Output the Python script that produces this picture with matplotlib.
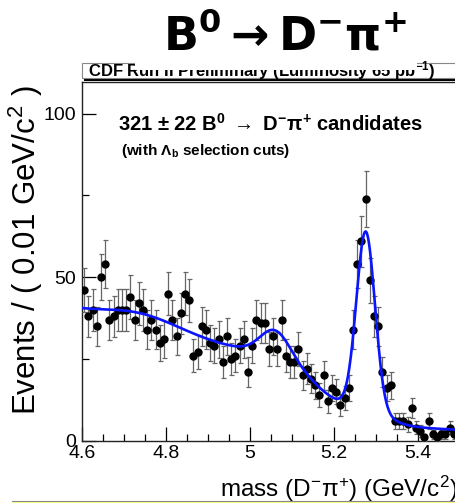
import math
import numpy as np
import matplotlib.pyplot as plt
from matplotlib.patches import Rectangle

plt.rcParams['font.family'] = ['Liberation Sans', 'DejaVu Sans']
plt.rcParams['mathtext.fontset'] = 'custom'
plt.rcParams['mathtext.rm'] = 'Liberation Sans'
plt.rcParams['mathtext.it'] = 'Liberation Sans:italic'
plt.rcParams['mathtext.bf'] = 'Liberation Sans:bold'
plt.rcParams['mathtext.default'] = 'regular'

# events per 0.01 GeV/c^2 bin, first bin centre at 4.605
bin_start = 4.605
bin_width = 0.01
counts = [46, 38, 40, 35, 50, 54, 37, 38, 40, 40,
          40, 44, 37, 42, 40, 34, 37, 34, 30, 31,
          45, 37, 32, 39, 45, 43, 26, 27, 35, 34,
          30, 29, 31, 24, 32, 25, 26, 29, 31, 21,
          29, 37, 36, 36, 28, 32, 28, 37, 26, 24,
          24, 28, 20, 22, 19, 17, 14, 20, 12, 16,
          15, 11, 13, 16, 34, 54, 61, 74, 49, 38,
          35, 21, 16, 17, 6, 6, 6, 5, 10, 4,
          3, 1, 6, 2, 1, 2, 2, 4, 2]

# fit parameters (signal + wide signal tail + background pieces)
sig_mean, sig_sigma, sig_amp = 5.2755, 0.022, 54.0
tail_sigma, tail_amp = 0.05, 4.0
comb_amp, comb_slope, comb_ref = 3.4, 2.0, 5.484
part_amp, part_edge, part_width = 18.7, 5.166, 0.091
bump_mean, bump_sigma, bump_amp = 5.06, 0.035, 8.0
hump_mean, hump_sigma, hump_amp = 4.74, 0.10, 5.2

xticks = [4.6, 4.8, 5.0, 5.2, 5.4]
xticklabels = ['4.6', '4.8', '5', '5.2', '5.4']
yticks = [0, 50, 100]


def gauss(m, mu, s, a):
    return a * np.exp(-0.5 * ((m - mu) / s) ** 2)


def fit_curve(m):
    erfc = np.vectorize(math.erfc)
    y = gauss(m, sig_mean, sig_sigma, sig_amp)
    y += gauss(m, sig_mean, tail_sigma, tail_amp)
    y += comb_amp * np.exp(-comb_slope * (m - comb_ref))
    y += part_amp * 0.5 * erfc((m - part_edge) / part_width)
    y += gauss(m, bump_mean, bump_sigma, bump_amp)
    y += gauss(m, hump_mean, hump_sigma, hump_amp)
    return y


W, H = 455, 503
fig = plt.figure(figsize=(W / 100, H / 100), dpi=100)
fig.patch.set_facecolor('white')

# axes frame: left 82 px, bottom 440.7 px, top 82 px, right edge just past the crop
ax = fig.add_axes([82 / W, (H - 440.7) / H, 378 / W, (440.7 - 82) / H])

mass = bin_start + bin_width * np.arange(len(counts))
n = np.array(counts, dtype=float)
ax.errorbar(mass, n, yerr=np.sqrt(n), fmt='o', color='black', ms=5,
            ecolor='#666666', elinewidth=0.9, capsize=1.8, capthick=0.9, zorder=3)

mm = np.linspace(4.6, 5.5, 800)
ax.plot(mm, fit_curve(mm), color='#0a14ff', lw=1.9, zorder=4)

ax.set_xlim(4.6, 5.5)
ax.set_ylim(0, (440.7 - 82) / 3.27)
ax.set_xticks(xticks, xticklabels)
ax.set_yticks(yticks)
ax.set_xticks(np.arange(4.6, 5.51, 0.05), minor=True)
ax.set_yticks([25, 75], minor=True)
ax.tick_params(which='both', direction='in', top=False, right=False, labelsize=14)
ax.tick_params(which='major', length=10, width=0.9)
ax.tick_params(which='minor', length=5, width=0.9)
ax.tick_params(axis='x', pad=3)
ax.tick_params(axis='y', pad=4)
for s in ax.spines.values():
    s.set_linewidth(1.0)
    s.set_color('#222222')

# axis titles
fig.text(26 / W, 1 - 85 / H, r'Events / ( 0.01 GeV/c$^{2}$ )', rotation=90,
         ha='center', va='top', fontsize=22.5)
fig.text(458 / W, 1 - 497 / H, r'mass (D$^{-}\pi^{+}$) (GeV/c$^{2}$)',
         ha='right', va='baseline', fontsize=17.5)

# annotations inside the frame
fig.text(118 / W, 1 - 131 / H,
         r'321 $\pm$ 22 B$^{\mathbf{0}}$ $\rightarrow$ D$^{\mathbf{-}}\pi^{+}$ candidates',
         ha='left', va='baseline', fontsize=14.5, fontweight='bold')
fig.text(121 / W, 1 - 155 / H, r'(with $\Lambda_{\mathbf{b}}$ selection cuts)',
         ha='left', va='baseline', fontsize=11, fontweight='bold')

# CDF label box with shadow
fig.add_artist(Rectangle((84 / W, 1 - 80.5 / H), 400 / W, 16 / H,
                         transform=fig.transFigure, facecolor='black',
                         edgecolor='none', zorder=5))
fig.add_artist(Rectangle((82 / W, 1 - 78 / H), 400 / W, 15 / H,
                         transform=fig.transFigure, facecolor='white',
                         edgecolor='#888888', lw=0.8, zorder=6))
fig.text(88 / W, 1 - 76 / H, r'CDF Run II Preliminary (Luminosity 65 pb$^{-1}$)',
         ha='left', va='baseline', fontsize=12, fontweight='bold', zorder=7)

# white cover under the big title
fig.add_artist(Rectangle((135 / W, 1 - 70 / H), 282 / W, 70 / H,
                         transform=fig.transFigure, facecolor='white',
                         edgecolor='none', zorder=8))
fig.text(163 / W, 1 - 49 / H, r'B$^{0}\rightarrow$D$^{-}\pi^{+}$',
         ha='left', va='baseline', fontsize=33, fontweight='bold',
         family='DejaVu Sans', math_fontfamily='dejavusans', zorder=9)

# thin rule and yellow strip at the bottom edge
fig.add_artist(Rectangle((12 / W, 0), 1, 2 / H, transform=fig.transFigure,
                         facecolor='#ffff80', edgecolor='none', zorder=9))
fig.add_artist(plt.Line2D([12 / W, 1], [2 / H, 2 / H], transform=fig.transFigure,
                          color='#888888', lw=0.8, zorder=10))

fig.savefig('out.png', dpi=100)
